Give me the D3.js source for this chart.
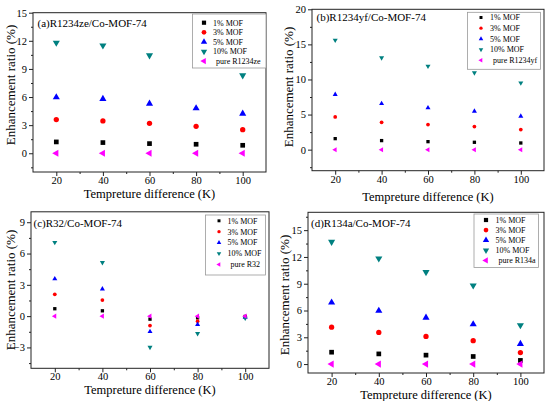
<!DOCTYPE html>
<html>
<head>
<meta charset="utf-8">
<script src="https://cdnjs.cloudflare.com/ajax/libs/d3/7.8.5/d3.min.js"></script>
<style>
body { margin: 0; background: #fff; }
svg text { font-family: "Liberation Serif", Tinos, "Times New Roman", Times, serif; fill: #000; }
</style>
</head>
<body>
<script>
// x values shared by every panel
var temps = [20, 40, 60, 80, 100];
var xTicks = [20, 40, 60, 80, 100];
var mofNames = ["1% MOF", "3% MOF", "5% MOF", "10% MOF"];

// (a) R1234ze/Co-MOF-74
var zeMof1  = [1.21, 1.14, 1.03, 0.96, 0.85];
var zeMof3  = [3.59, 3.45, 3.20, 2.88, 2.52];
var zeMof5  = [5.97, 5.80, 5.30, 4.80, 4.23];
var zeMof10 = [11.80, 11.50, 10.45, 9.70, 8.32];   // 80 K point sits behind the legend
var zePure  = [0, 0, 0, 0, 0];
var zeTicks = [0, 3, 6, 9, 12, 15];

// (b) R1234yf/Co-MOF-74
var yfMof1  = [1.57, 1.29, 1.14, 1.05, 0.95];
var yfMof3  = [4.67, 3.90, 3.57, 3.29, 2.86];
var yfMof5  = [7.86, 6.57, 5.95, 5.48, 4.76];
var yfMof10 = [15.60, 13.10, 11.90, 10.95, 9.52];
var yfPure  = [0, 0, 0, 0, 0];
var yfTicks = [0, 5, 10, 15, 20];

// (c) R32/Co-MOF-74
var r32Mof1  = [0.71, 0.51, -0.29, -0.16, -0.03];
var r32Mof3  = [2.09, 1.54, -0.90, -0.48, -0.05];
var r32Mof5  = [3.57, 2.60, -1.48, -0.80, -0.10];
var r32Mof10 = [7.07, 5.14, -2.99, -1.67, -0.19];
var r32Pure  = [0, 0, 0, 0, 0];
var r32Ticks = [-3, 0, 3, 6, 9];

// (d) R134a/Co-MOF-74
var r134Mof1  = [1.33, 1.14, 1.00, 0.85, 0.41];
var r134Mof3  = [4.13, 3.54, 3.10, 2.62, 1.29];
var r134Mof5  = [6.89, 5.97, 5.20, 4.46, 2.25];
var r134Mof10 = [13.70, 11.83, 10.30, 8.80, 4.35];
var r134Pure  = [0, 0, 0, 0, 0];
var r134Ticks = [0, 3, 6, 9, 12, 15];

// marker style for the five series
var colors = ["#000000", "#ff0000", "#0000ff", "#008080", "#ff00ff"];
var shapes = [d3.symbolSquare, d3.symbolCircle, d3.symbolTriangle, d3.symbolTriangle, d3.symbolTriangle];
var rotations = [0, 0, 0, 180, -90];
var serif = "'Liberation Serif', Tinos, 'Times New Roman', Times, serif";

// panel layout (plot box in pixels) plus the data for it
var panels = [
  { title: "(a)R1234ze/Co-MOF-74", pure: "pure R1234ze",
    series: [zeMof1, zeMof3, zeMof5, zeMof10, zePure], yDomain: [-2, 15], yTicks: zeTicks,
    box: {left: 33, right: 266, top: 12.7, bottom: 172}, size: 22,
    titlePos: [37.5, 26.5], xLabelY: 198, yLabelX: 14.5, yLabelY: 85,
    legend: {x: 192.5, y: 14, w: 73.5, h: 54, mx: 204, tx: 213, row0: 22.7, dy: 9.6} },
  { title: "(b)R1234yf/Co-MOF-74", pure: "pure R1234yf",
    series: [yfMof1, yfMof3, yfMof5, yfMof10, yfPure], yDomain: [-3, 20], yTicks: yfTicks,
    box: {left: 312, right: 544, top: 9.3, bottom: 170.7}, size: 11,
    titlePos: [316.5, 20.7], xLabelY: 200.5, yLabelX: 292.5, yLabelY: 87,
    legend: {x: 467.5, y: 12.3, w: 73, h: 57, mx: 481, tx: 490, row0: 17.5, dy: 10.7} },
  { title: "(c)R32/Co-MOF-74", pure: "pure R32",
    series: [r32Mof1, r32Mof3, r32Mof5, r32Mof10, r32Pure], yDomain: [-5, 10], yTicks: r32Ticks,
    box: {left: 31, right: 269, top: 211.8, bottom: 368.3}, size: 11,
    titlePos: [33.5, 226.7], xLabelY: 394, yLabelX: 14.5, yLabelY: 290,
    legend: {x: 205.5, y: 215, w: 60, h: 60, mx: 219, tx: 227.5, row0: 220.8, dy: 10.9} },
  { title: "(d)R134a/Co-MOF-74", pure: "pure R134a",
    series: [r134Mof1, r134Mof3, r134Mof5, r134Mof10, r134Pure], yDomain: [-1, 17], yTicks: r134Ticks,
    box: {left: 308, right: 544, top: 212.3, bottom: 373}, size: 22,
    titlePos: [311, 226.7], xLabelY: 399, yLabelX: 288.5, yLabelY: 295,
    legend: {x: 474, y: 214, w: 64.5, h: 53.5, mx: 486, tx: 495.5, row0: 220, dy: 10.1} }
];

var svg = d3.select("body").append("svg")
    .attr("width", 550)
    .attr("height", 401);

panels.forEach(drawPanel);

function drawPanel(p) {
  var b = p.box;
  var g = svg.append("g");

  var x = d3.scaleLinear().domain([10, 110]).range([b.left, b.right]);
  var y = d3.scaleLinear().domain(p.yDomain).range([b.bottom, b.top]);

  // minor ticks halfway between the major ones
  var yStep = p.yTicks[1] - p.yTicks[0];
  var yMinor = d3.range(p.yTicks[0] - yStep / 2, p.yDomain[1], yStep)
      .filter(function(v) { return v > p.yDomain[0] && v < p.yDomain[1]; });
  var xMinor = [30, 50, 70, 90];

  // bottom axis
  g.append("g")
      .attr("transform", "translate(0," + b.bottom + ")")
      .call(d3.axisBottom(x).tickValues(xTicks).tickSize(4).tickSizeOuter(0).tickPadding(0.5))
      .call(styleAxis);
  g.append("g")
      .attr("transform", "translate(0," + b.bottom + ")")
      .call(d3.axisBottom(x).tickValues(xMinor).tickSize(2).tickFormat(""))
      .call(styleAxis);

  // left axis
  g.append("g")
      .attr("transform", "translate(" + b.left + ",0)")
      .call(d3.axisLeft(y).tickValues(p.yTicks).tickSize(4).tickSizeOuter(0).tickPadding(2))
      .call(styleAxis);
  g.append("g")
      .attr("transform", "translate(" + b.left + ",0)")
      .call(d3.axisLeft(y).tickValues(yMinor).tickSize(2).tickFormat(""))
      .call(styleAxis);

  // frame
  g.append("rect")
      .attr("x", b.left)
      .attr("y", b.top)
      .attr("width", b.right - b.left)
      .attr("height", b.bottom - b.top)
      .attr("fill", "none")
      .attr("stroke", "#222")
      .attr("stroke-width", 1);

  // markers
  p.series.forEach(function(vals, si) {
    g.append("g").selectAll("path")
      .data(vals)
      .enter().append("path")
        .attr("d", d3.symbol().type(shapes[si]).size(p.size))
        .attr("transform", function(d, i) {
          return "translate(" + x(temps[i]) + "," + y(d) + ") rotate(" + rotations[si] + ")";
        })
        .attr("fill", colors[si]);
  });

  // panel title
  g.append("text")
      .attr("x", p.titlePos[0])
      .attr("y", p.titlePos[1])
      .style("font-family", serif)
      .style("font-size", "11px")
      .text(p.title);

  // axis titles
  g.append("text")
      .attr("x", (b.left + b.right) / 2)
      .attr("y", p.xLabelY)
      .attr("text-anchor", "middle")
      .style("font-family", serif)
      .style("font-size", "12.5px")
      .text("Tempreture difference (K)");
  g.append("text")
      .attr("transform", "translate(" + p.yLabelX + "," + p.yLabelY + ") rotate(-90)")
      .attr("text-anchor", "middle")
      .style("font-family", serif)
      .style("font-size", "13px")
      .text("Enhancement ratio (%)");

  // legend
  var L = p.legend;
  var lg = g.append("g");
  lg.append("rect")
      .attr("x", L.x)
      .attr("y", L.y)
      .attr("width", L.w)
      .attr("height", L.h)
      .attr("fill", "#fff")
      .attr("stroke", "#999")
      .attr("stroke-width", 0.8);
  var names = mofNames.concat([p.pure]);
  names.forEach(function(name, si) {
    var ry = L.row0 + si * L.dy;
    lg.append("path")
        .attr("d", d3.symbol().type(shapes[si]).size(p.size * 0.8))
        .attr("transform", "translate(" + L.mx + "," + ry + ") rotate(" + rotations[si] + ")")
        .attr("fill", colors[si]);
    lg.append("text")
        .attr("x", L.tx + (si == 4 ? 3 : 0))
        .attr("y", ry + 2.8)
        .style("font-family", serif)
        .style("font-size", "8px")
        .text(name);
  });
}

function styleAxis(sel) {
  sel.attr("font-family", null);
  sel.select(".domain").remove();
  sel.selectAll(".tick line").attr("stroke", "#222");
  sel.selectAll(".tick text")
      .style("font-size", "10.5px")
      .style("font-family", serif);
}
</script>
</body>
</html>
